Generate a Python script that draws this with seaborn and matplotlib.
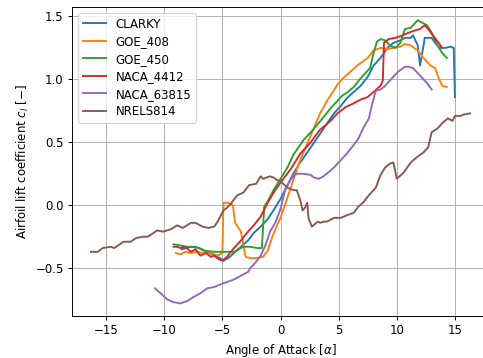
import matplotlib
matplotlib.use("Agg")
import matplotlib.pyplot as plt
import seaborn as sns
import pandas as pd

airfoils = ["CLARKY", "GOE_408", "GOE_450", "NACA_4412", "NACA_63815", "NRELS814"]

clarky_a = [-8.5, -7.7, -7.0, -6.3, -5.7, -5.2, -4.9, -4.5, -4.0, -3.4, -2.8, -2.3, -1.7, -1.1, -0.6, 0.0,
            0.6, 1.1, 1.7, 2.3, 3.2, 4.0, 4.6, 5.2, 5.7, 6.3, 6.9, 7.5, 8.0, 8.6, 9.2, 9.7, 10.3, 10.7,
            11.2, 11.4, 11.8, 12.0, 12.3, 12.4, 12.7, 13.0, 13.3, 13.7, 14.2, 14.6, 14.9, 15.0]
clarky_cl = [-0.35, -0.33, -0.34, -0.37, -0.40, -0.42, -0.44, -0.42, -0.38, -0.33, -0.28, -0.22, -0.17, -0.11, -0.04, 0.05,
             0.16, 0.25, 0.34, 0.42, 0.54, 0.65, 0.73, 0.79, 0.85, 0.90, 0.95, 1.02, 1.11, 1.17, 1.25, 1.29, 1.31, 1.33,
             1.33, 1.35, 1.27, 1.11, 1.27, 1.33, 1.33, 1.33, 1.29, 1.25, 1.25, 1.26, 1.25, 0.86]

goe408_a = [-9.0, -8.6, -8.2, -7.6, -7.2, -6.6, -6.0, -5.4, -5.0, -4.9, -4.5, -4.1, -3.9, -3.4, -3.0, -2.6, -2.0,
            -1.5, -1.1, -0.7, -0.3, 0.0, 0.3, 0.7, 1.1, 1.7, 2.3, 2.9, 3.4, 4.0, 4.5, 4.9, 5.4, 6.0, 6.6, 7.5,
            8.0, 8.6, 9.2, 9.7, 10.3, 10.7, 11.2, 11.8, 12.3, 12.9, 13.3, 13.6, 13.9, 14.3]
goe408_cl = [-0.38, -0.39, -0.37, -0.38, -0.37, -0.38, -0.38, -0.40, -0.38, 0.02, 0.02, 0.00, -0.14, -0.21, -0.41, -0.42, -0.42,
             -0.41, -0.36, -0.25, -0.16, -0.10, -0.02, 0.09, 0.20, 0.36, 0.49, 0.62, 0.73, 0.83, 0.90, 0.96, 1.01, 1.06, 1.11, 1.17,
             1.23, 1.25, 1.24, 1.25, 1.26, 1.28, 1.27, 1.23, 1.17, 1.11, 1.09, 1.01, 0.95, 0.94]

goe450_a = [-9.2, -8.6, -8.0, -7.3, -6.6, -5.7, -4.9, -4.0, -3.2, -2.6, -2.0, -1.6, -1.4, -1.1, -0.6, 0.0,
            0.6, 1.1, 2.0, 2.9, 3.7, 4.3, 4.9, 5.3, 5.8, 6.3, 6.9, 7.3, 7.7, 8.0, 8.3, 8.6, 9.0, 9.4, 9.9,
            10.3, 10.7, 11.2, 11.8, 12.2, 12.6, 13.0, 13.5, 13.9, 14.3]
goe450_cl = [-0.31, -0.32, -0.33, -0.33, -0.36, -0.37, -0.37, -0.37, -0.33, -0.33, -0.34, -0.34, -0.01, 0.03, 0.12, 0.21,
             0.30, 0.40, 0.52, 0.61, 0.70, 0.77, 0.83, 0.87, 0.90, 0.94, 1.01, 1.05, 1.09, 1.21, 1.30, 1.32, 1.31, 1.27, 1.25,
             1.29, 1.40, 1.41, 1.47, 1.45, 1.43, 1.37, 1.27, 1.21, 1.17]

naca4412_a = [-9.2, -8.9, -8.6, -8.2, -7.7, -7.3, -6.9, -6.4, -6.0, -5.7, -5.3, -5.0, -4.6, -4.0, -3.4, -2.8,
              -2.3, -1.7, -1.1, -0.6, 0.0, 0.9, 1.7, 2.6, 3.4, 4.3, 4.9, 5.6, 6.3, 6.9, 7.5, 8.0, 8.6, 8.8,
              8.9, 9.3, 9.9, 10.5, 11.0, 11.6, 12.0, 12.4, 12.7, 13.1, 13.6, 13.9]
naca4412_cl = [-0.33, -0.33, -0.34, -0.33, -0.37, -0.35, -0.40, -0.38, -0.41, -0.40, -0.43, -0.44, -0.41, -0.34, -0.28, -0.21,
               -0.16, -0.09, 0.02, 0.10, 0.18, 0.29, 0.41, 0.50, 0.60, 0.67, 0.73, 0.78, 0.81, 0.84, 0.86, 0.90, 0.95, 0.99,
               1.29, 1.32, 1.33, 1.35, 1.37, 1.39, 1.40, 1.43, 1.40, 1.35, 1.29, 1.25]

naca63815_a = [-10.8, -10.3, -9.7, -9.2, -8.6, -8.0, -7.5, -6.9, -6.3, -5.7, -5.2, -4.6, -4.0, -3.4, -2.8, -2.6,
               -2.1, -1.7, -1.3, -0.9, -0.4, 0.0, 0.4, 0.9, 1.4, 2.0, 2.6, 2.9, 3.3, 3.7, 4.1, 4.6, 5.2, 5.7,
               6.3, 6.7, 7.1, 7.6, 7.9, 8.2, 8.6, 8.9, 9.3, 9.7, 10.1, 10.7, 11.0, 11.4, 12.0, 12.6, 13.0]
naca63815_cl = [-0.66, -0.70, -0.75, -0.77, -0.78, -0.76, -0.73, -0.70, -0.66, -0.65, -0.63, -0.61, -0.59, -0.56, -0.53, -0.50,
                -0.45, -0.40, -0.32, -0.21, -0.13, -0.03, 0.12, 0.21, 0.25, 0.25, 0.24, 0.22, 0.21, 0.23, 0.26, 0.30, 0.36, 0.41,
                0.48, 0.53, 0.61, 0.69, 0.81, 0.91, 0.92, 0.94, 0.98, 1.02, 1.06, 1.10, 1.10, 1.09, 1.03, 0.97, 0.92]

nrels814_a = [-16.3, -15.7, -15.3, -14.6, -14.3, -13.5, -12.9, -12.4, -11.8, -11.4, -10.6, -10.1, -9.4, -8.9, -8.4,
              -7.7, -7.3, -6.7, -6.2, -5.7, -5.4, -4.9, -4.6, -4.3, -3.7, -3.2, -2.7, -2.1, -1.7, -1.5, -0.9, -0.6,
              -0.3, 0.0, 0.6, 1.1, 1.4, 1.7, 1.9, 2.1, 2.3, 2.4, 2.7, 3.2, 3.4, 3.7, 4.0, 4.6, 5.2, 5.7, 6.3,
              6.7, 7.1, 7.6, 8.2, 8.6, 9.0, 9.4, 9.7, 10.0, 10.6, 11.2, 11.7, 12.3, 12.7, 13.0, 13.5, 14.0, 14.4,
              14.8, 15.0, 15.5, 15.7, 16.3]
nrels814_cl = [-0.37, -0.37, -0.34, -0.33, -0.34, -0.29, -0.29, -0.26, -0.25, -0.25, -0.20, -0.21, -0.19, -0.16, -0.18,
               -0.14, -0.14, -0.17, -0.18, -0.17, -0.13, -0.04, -0.02, 0.01, 0.08, 0.10, 0.16, 0.17, 0.23, 0.21, 0.23, 0.22,
               0.20, 0.19, 0.14, 0.12, 0.12, 0.04, -0.04, -0.02, 0.02, -0.10, -0.17, -0.13, -0.14, -0.13, -0.13, -0.10, -0.10, -0.08, -0.06,
               -0.01, 0.02, 0.08, 0.14, 0.24, 0.30, 0.33, 0.34, 0.21, 0.26, 0.34, 0.38, 0.42, 0.46, 0.58, 0.61, 0.66, 0.69,
               0.67, 0.71, 0.71, 0.72, 0.73]

alphas = [clarky_a, goe408_a, goe450_a, naca4412_a, naca63815_a, nrels814_a]
cls = [clarky_cl, goe408_cl, goe450_cl, naca4412_cl, naca63815_cl, nrels814_cl]

frames = []
for name, a, c in zip(airfoils, alphas, cls):
    frames.append(pd.DataFrame({"alpha": a, "cl": c, "airfoil": name}))
df = pd.concat(frames, ignore_index=True)

DPI = 85
fig = plt.figure(figsize=(483 / DPI, 358 / DPI), dpi=DPI)
ax = fig.add_axes([72 / 483, 42 / 358, 417 / 483, 309 / 358])
palette = sns.color_palette("tab10", 6)
sns.lineplot(data=df, x="alpha", y="cl", hue="airfoil", hue_order=airfoils,
             palette=palette, estimator=None, sort=False, ax=ax, linewidth=1.6)
ax.grid(True, color="#b0b0b0", linewidth=0.8)
ax.set_axisbelow(True)
ax.set_xlim(-17.93, 17.93)
ax.set_ylim(-0.88, 1.575)
ax.set_xticks([-15, -10, -5, 0, 5, 10, 15])
ax.set_yticks([-0.5, 0.0, 0.5, 1.0, 1.5])
ax.set_xlabel(r"Angle of Attack [$\alpha$]")
ax.set_ylabel(r"Airfoil lift coefficient $c_l$ [$-$]")
ax.legend(loc="upper left", title=None, labelspacing=0.38)
fig.savefig("out.png", dpi=DPI)
